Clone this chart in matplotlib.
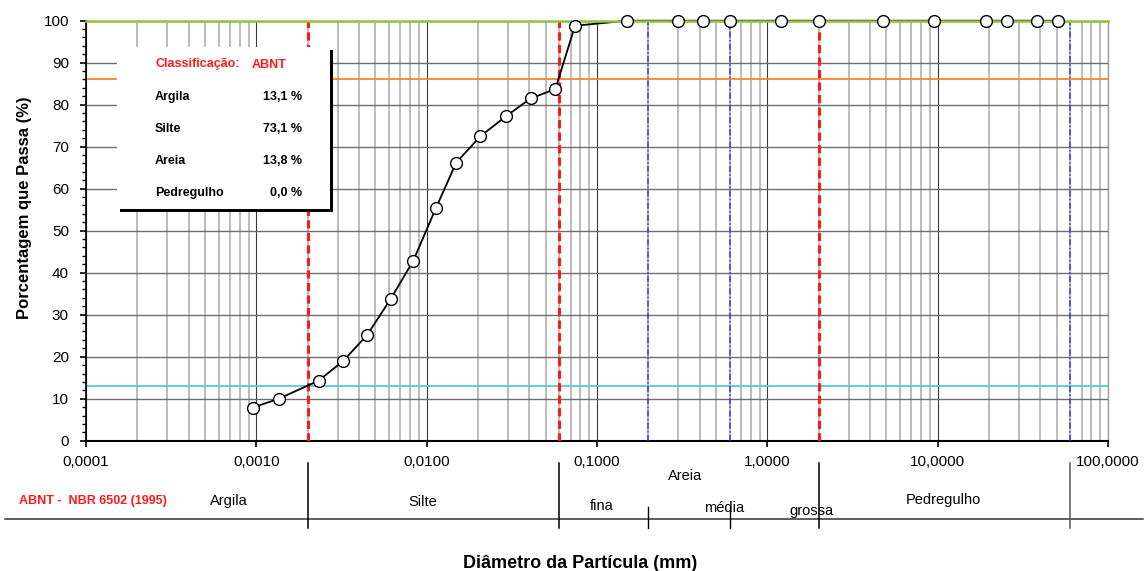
import matplotlib
matplotlib.use("Agg")
import matplotlib.pyplot as plt
from matplotlib.patches import Rectangle
from matplotlib.lines import Line2D
from matplotlib.ticker import FixedLocator, FixedFormatter, LogLocator, MultipleLocator, NullFormatter
from matplotlib.transforms import blended_transform_factory

plt.rcParams['font.family'] = ['Liberation Sans', 'DejaVu Sans']

# ---------------- data ----------------
diametro_mm = [0.000955, 0.001357, 0.00232, 0.00322, 0.00448, 0.00616, 0.00833,
               0.01137, 0.0149, 0.0207, 0.0291, 0.0408, 0.0569, 0.0743,
               0.15, 0.30, 0.42, 0.60, 1.2, 2.0, 4.8, 9.5, 19.1, 25.4, 38.1, 50.8]
passante_pct = [7.9, 10.0, 14.3, 18.9, 25.2, 33.8, 42.8,
                55.5, 66.2, 72.5, 77.2, 81.5, 83.7, 98.8,
                100, 100, 100, 100, 100, 100, 100, 100, 100, 100, 100, 100]

x_ticks = [0.0001, 0.001, 0.01, 0.1, 1, 10, 100]
x_tick_labels = ["0,0001", "0,0010", "0,0100", "0,1000", "1,0000", "10,0000", "100,0000"]
y_ticks = [0, 10, 20, 30, 40, 50, 60, 70, 80, 90, 100]

# cumulative fraction limits (horizontal reference lines)
nivel_argila = 13.1
nivel_silte = 86.2
nivel_areia = 100.0

# ABNT boundaries (red) and sand subdivision / gravel limit (blue)
limites_abnt = [0.002, 0.06, 2.0]
limites_areia = [0.2, 0.6, 60.0]

classes = ["Argila", "Silte", "Areia", "Pedregulho"]
percentuais = ["13,1 %", "73,1 %", "13,8 %", "0,0 %"]

W, H = 1148, 571
fig = plt.figure(figsize=(W / 100, H / 100), dpi=100)

def fx(x):
    return x / W

def fy(y):
    return 1 - y / H

ax = fig.add_axes([fx(86), fy(440.7), (1108 - 86) / W, (440.7 - 20.7) / H])
ax.set_xscale('log')
ax.set_xlim(1e-4, 100)
ax.set_ylim(0, 100)

ax.xaxis.set_major_locator(FixedLocator(x_ticks))
ax.xaxis.set_major_formatter(FixedFormatter(x_tick_labels))
ax.xaxis.set_minor_locator(LogLocator(base=10, subs=range(2, 10), numticks=50))
ax.xaxis.set_minor_formatter(NullFormatter())
ax.yaxis.set_major_locator(FixedLocator(y_ticks))
ax.yaxis.set_minor_locator(MultipleLocator(2))

ax.tick_params(axis='x', which='major', length=4.3, width=1.2, pad=6, labelsize=11, direction='out')
ax.tick_params(axis='x', which='minor', length=0)
ax.tick_params(axis='y', which='major', length=4.3, width=1.2, pad=8, labelsize=11, direction='out')
ax.tick_params(axis='y', which='minor', length=2.6, width=1.0, direction='out')

ax.grid(which='minor', axis='x', color='#b0b0b0', lw=1.2, zorder=0)
ax.grid(which='major', axis='x', color='#3a3a3a', lw=0.8, zorder=0)
ax.grid(which='major', axis='y', color='#6e6e6e', lw=1.0, zorder=0)
ax.set_axisbelow(True)

ax.spines['top'].set_visible(False)
ax.spines['right'].set_color('#9a9a9a')
ax.spines['right'].set_linewidth(1.0)
ax.spines['left'].set_linewidth(1.2)
ax.spines['bottom'].set_linewidth(1.5)

# reference lines
ax.axhline(nivel_areia, color='#95c43a', lw=1.8, zorder=4, clip_on=False)
ax.axhline(nivel_silte, color='#ff8423', lw=1.3, zorder=2.5)
ax.axhline(nivel_argila, color='#5fd0d0', lw=1.4, zorder=2.5)
for xv in limites_abnt:
    ax.axvline(xv, color='#ff1a1a', lw=2.2, ls=(0, (2.7, 1.4)), zorder=2.6)
for xv in limites_areia:
    ax.axvline(xv, color='#3535ff', lw=1.1, ls=(0, (4, 1.5, 1, 1.5)), zorder=2.6)

# curve: line under the 100% line, markers on top
ax.plot(diametro_mm, passante_pct, color='black', lw=1.3, zorder=3, clip_on=False)
ax.plot(diametro_mm, passante_pct, ls='none', zorder=5,
        marker='o', markersize=8.5, markerfacecolor='white',
        markeredgecolor='black', markeredgewidth=1.0, clip_on=False)

# ---------------- classification box ----------------
fig.add_artist(Rectangle((fx(120), fy(212)), (333 - 120) / W, (212 - 50) / H,
                         transform=fig.transFigure, facecolor='black',
                         edgecolor='none', zorder=10))
fig.add_artist(Rectangle((fx(117), fy(209)), (330 - 117) / W, (209 - 47) / H,
                         transform=fig.transFigure, facecolor='white',
                         edgecolor='none', zorder=11))
fig.text(fx(155), fy(64.5), "Classificação:", color='#ff1a1a', fontsize=9,
         fontweight='bold', ha='left', va='center', zorder=12)
fig.text(fx(252), fy(64.5), "ABNT", color='#ff1a1a', fontsize=9,
         fontweight='bold', ha='left', va='center', zorder=12)
rows_y = [97.3, 129, 161, 192.7]
for nome, pct, yy in zip(classes, percentuais, rows_y):
    fig.text(fx(155), fy(yy), nome, fontsize=9, fontweight='bold',
             ha='left', va='center', zorder=12)
    fig.text(fx(302), fy(yy), pct, fontsize=9, fontweight='bold',
             ha='right', va='center', zorder=12)

# ---------------- ABNT band below the axis ----------------
fig.add_artist(Line2D([fx(5), fx(1143)], [fy(518.5), fy(518.5)],
                      transform=fig.transFigure, color='#333333', lw=1.1))
btr = blended_transform_factory(ax.transData, fig.transFigure)
tall = [0.002, 0.06, 2.0, 60.0]
short = [0.2, 0.6]
for xv in tall:
    col = '#555555' if xv == 60.0 else 'black'
    fig.add_artist(Line2D([xv, xv], [fy(462.7), fy(528.3)], transform=btr,
                          color=col, lw=1.1))
for xv in short:
    fig.add_artist(Line2D([xv, xv], [fy(506.7), fy(528.3)], transform=btr,
                          color='black', lw=1.0))

fig.text(fx(93), fy(501), "ABNT -  NBR 6502 (1995)", color='#ff1a1a',
         fontsize=9, fontweight='bold', ha='center', va='center')
band_labels = [("Argila", 228.5, 501), ("Silte", 422.5, 501.7),
               ("Areia", 685.5, 476), ("fina", 602, 506),
               ("média", 724.5, 507.7), ("grossa", 811, 510.5),
               ("Pedregulho", 943, 500)]
for txt, xx, yy in band_labels:
    fig.text(fx(xx), fy(yy), txt, fontsize=10.5, ha='center', va='center')

fig.text(fx(580), fy(563), "Diâmetro da Partícula (mm)", fontsize=13,
         fontweight='bold', ha='center', va='center')
fig.text(fx(25), fy(208), "Porcentagem que Passa (%)", fontsize=12,
         fontweight='bold', ha='center', va='center', rotation=90)

fig.savefig("out.png", dpi=100)
